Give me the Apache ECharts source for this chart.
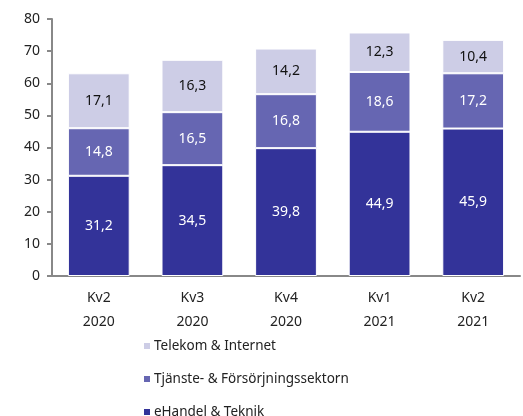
<!DOCTYPE html>
<html><head><meta charset="utf-8">
<script src="https://cdn.jsdelivr.net/npm/echarts@6/dist/echarts.min.js"></script>
<style>html,body{margin:0;padding:0;background:#fff}#c{width:523px;height:416px}</style>
</head><body><div id="c"></div>
<script>
const categories = ['Kv2\n2020','Kv3\n2020','Kv4\n2020','Kv1\n2021','Kv2\n2021'];
const eHandel = [31.2, 34.5, 39.8, 44.9, 45.9];
const tjanste = [14.8, 16.5, 16.8, 18.6, 17.2];
const telekom = [17.1, 16.3, 14.2, 12.3, 10.4];
const yTicks = [0,10,20,30,40,50,60,70,80];
const font = 'Noto Sans';
const fmt = p => String(p.value).replace('.', ',');
function s(name, data, color, labelColor){
  return {name, type:'bar', stack:'a', data, barWidth:'66%',
    itemStyle:{color, borderColor:'#fff', borderWidth:1},
    label:{show:true, position:'inside', formatter:fmt, color:labelColor, fontFamily:font, fontSize:14}};
}
const chart = echarts.init(document.getElementById('c'));
chart.setOption({
  animation:false,
  grid:{left:52, right:3, top:19, bottom:140},
  legend:{orient:'vertical', left:142, top:339, height:120, padding:0, itemGap:19, itemWidth:8, itemHeight:8, icon:'rect',
    data:['Telekom & Internet','Tjänste- & Försörjningssektorn','eHandel & Teknik'],
    textStyle:{fontFamily:font, fontSize:13.5, color:'#222', lineHeight:14, padding:[0,0,0,-2]}},
  xAxis:{type:'category', data:categories,
    axisLine:{lineStyle:{color:'#888', width:2}}, axisTick:{show:false},
    axisLabel:{fontFamily:font, fontSize:14, color:'#222', lineHeight:24, margin:10}},
  yAxis:{type:'value', min:0, max:80, interval:10,
    axisLine:{show:true, lineStyle:{color:'#888', width:2}},
    axisTick:{show:true, length:5, lineStyle:{color:'#888', width:2}},
    splitLine:{show:false},
    axisLabel:{fontFamily:font, fontSize:14, color:'#222', margin:12,
      customValues: yTicks}},
  series:[
    s('eHandel & Teknik', eHandel, '#333399', '#fff'),
    s('Tjänste- & Försörjningssektorn', tjanste, '#6666b2', '#fff'),
    s('Telekom & Internet', telekom, '#cdcde6', '#111')
  ]
});
</script></body></html>
